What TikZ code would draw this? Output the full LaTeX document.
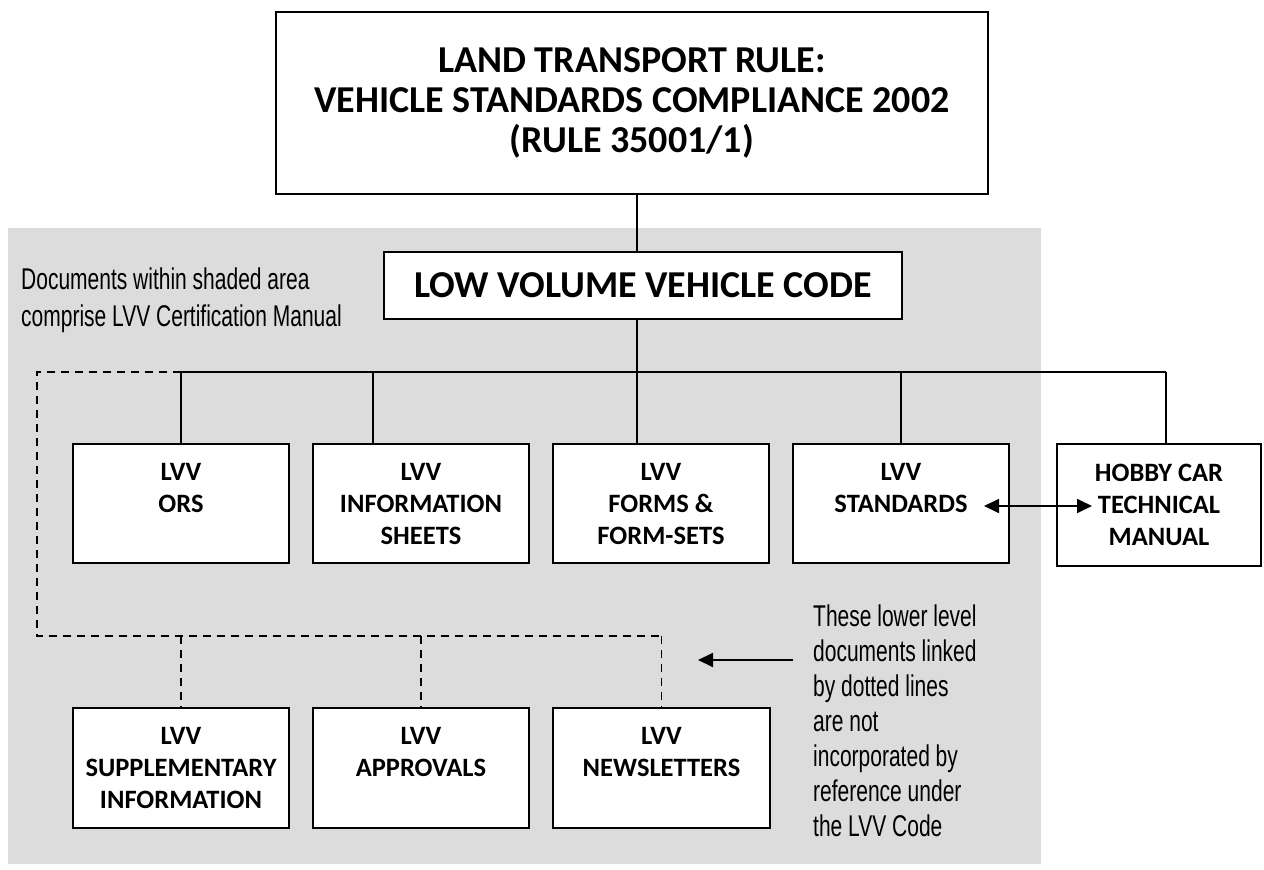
\documentclass[tikz,border=0pt]{standalone}
\usepackage{fontspec}
\setmainfont{Carlito}
\newfontfamily\agency[FakeStretch=0.70]{Liberation Sans}
\usetikzlibrary{arrows.meta}
\definecolor{shadegray}{RGB}{220,220,220}
\begin{document}
\begin{tikzpicture}[x=1pt,y=-1pt,
  box/.style={draw=black, line width=2.6pt, fill=white, align=center, inner sep=0pt},
  conn/.style={draw=black, line width=1.8pt},
  dotconn/.style={draw=black, line width=1.8pt, dash pattern=on 8pt off 6pt},
  toptext/.style={font={\fontsize{38}{40}\selectfont\bfseries}},
  boxtext/.style={font={\fontsize{26.5}{32}\selectfont\bfseries}},
  note/.style={font={\agency\fontsize{30}{35}\selectfont}, align=left, inner sep=0pt}
]
\useasboundingbox (0,0) rectangle (1264,870);
\fill[white] (0,0) rectangle (1264,870);
% shaded area
\fill[shadegray] (8,228) rectangle (1041,864);

% boxes
\node[box, toptext, minimum width=712, minimum height=182] (rule) at (632,103)
  {LAND TRANSPORT RULE:\\VEHICLE STANDARDS COMPLIANCE 2002\\(RULE 35001/1)};
\node[box, toptext, minimum width=518, minimum height=67] (code) at (643,285.5)
  {LOW VOLUME VEHICLE CODE};

\node[box, boxtext, minimum width=216, minimum height=119] (ors) at (181,503.5)
  {LVV\\ORS\\\mbox{}};
\node[box, boxtext, minimum width=216, minimum height=119] (info) at (421,503.5)
  {LVV\\INFORMATION\\SHEETS};
\node[box, boxtext, minimum width=216, minimum height=119] (forms) at (661,503.5)
  {LVV\\FORMS \&\\FORM-SETS};
\node[box, boxtext, minimum width=216, minimum height=119] (stds) at (901,503.5)
  {LVV\\STANDARDS\\\mbox{}};
\node[box, boxtext, minimum width=204, minimum height=122] (hobby) at (1159,505)
  {HOBBY CAR\\TECHNICAL\\MANUAL};

\node[box, boxtext, minimum width=216, minimum height=120] (supp) at (181,768)
  {LVV\\SUPPLEMENTARY\\INFORMATION};
\node[box, boxtext, minimum width=216, minimum height=120] (appr) at (421,768)
  {LVV\\APPROVALS\\\mbox{}};
\node[box, boxtext, minimum width=217, minimum height=120] (news) at (661.5,768)
  {LVV\\NEWSLETTERS\\\mbox{}};

% notes
\node[note, anchor=north west, font={\agency\fontsize{30}{37}\selectfont}] (notel) at (21,268)
  {Documents within shaded area\\comprise LVV Certification Manual};
\node[note, anchor=north west] (noter) at (813,605)
  {These lower level\\documents linked\\by dotted lines\\are not\\incorporated by\\reference under\\the LVV Code};

% solid connectors
\coordinate (c1) at (637,372);
\coordinate (busL) at (181,372);
\coordinate (busR) at (1166,372);
\coordinate (b2) at (373,372);
\draw[conn] (rule.south -| c1) -- (code.north -| c1);
\draw[conn] (code.south -| c1) -- (c1);
\draw[conn] (busL) -- (busR);
\draw[conn] (busL) -- (ors.north);
\draw[conn] (b2) -- (info.north -| b2);
\draw[conn] (c1) -- (forms.north -| c1);
\draw[conn] (stds.north |- busL) -- (stds.north);
\draw[conn] (busR) -- (hobby.north -| busR);

% dashed connectors
\coordinate (dTL) at (37,372);
\coordinate (dBL) at (37,636);
\draw[dotconn] (busL) -- (dTL) -- (dBL) -- (news.north |- dBL);
\draw[dotconn] (supp.north |- dBL) -- (supp.north);
\draw[dotconn] (appr.north |- dBL) -- (appr.north);
\draw[dotconn] (news.north |- dBL) -- (news.north);

% arrows
\coordinate (dA) at (984,506);
\coordinate (dB) at (1092,506);
\draw[conn, {Triangle[length=15pt,width=14pt]}-{Triangle[length=15pt,width=14pt]}] (dA) -- (dB);
\coordinate (arrS) at (793,660);
\coordinate (arrE) at (698,660);
\draw[conn, -{Triangle[length=15pt,width=14pt]}] (arrS) -- (arrE);
\end{tikzpicture}
\end{document}
